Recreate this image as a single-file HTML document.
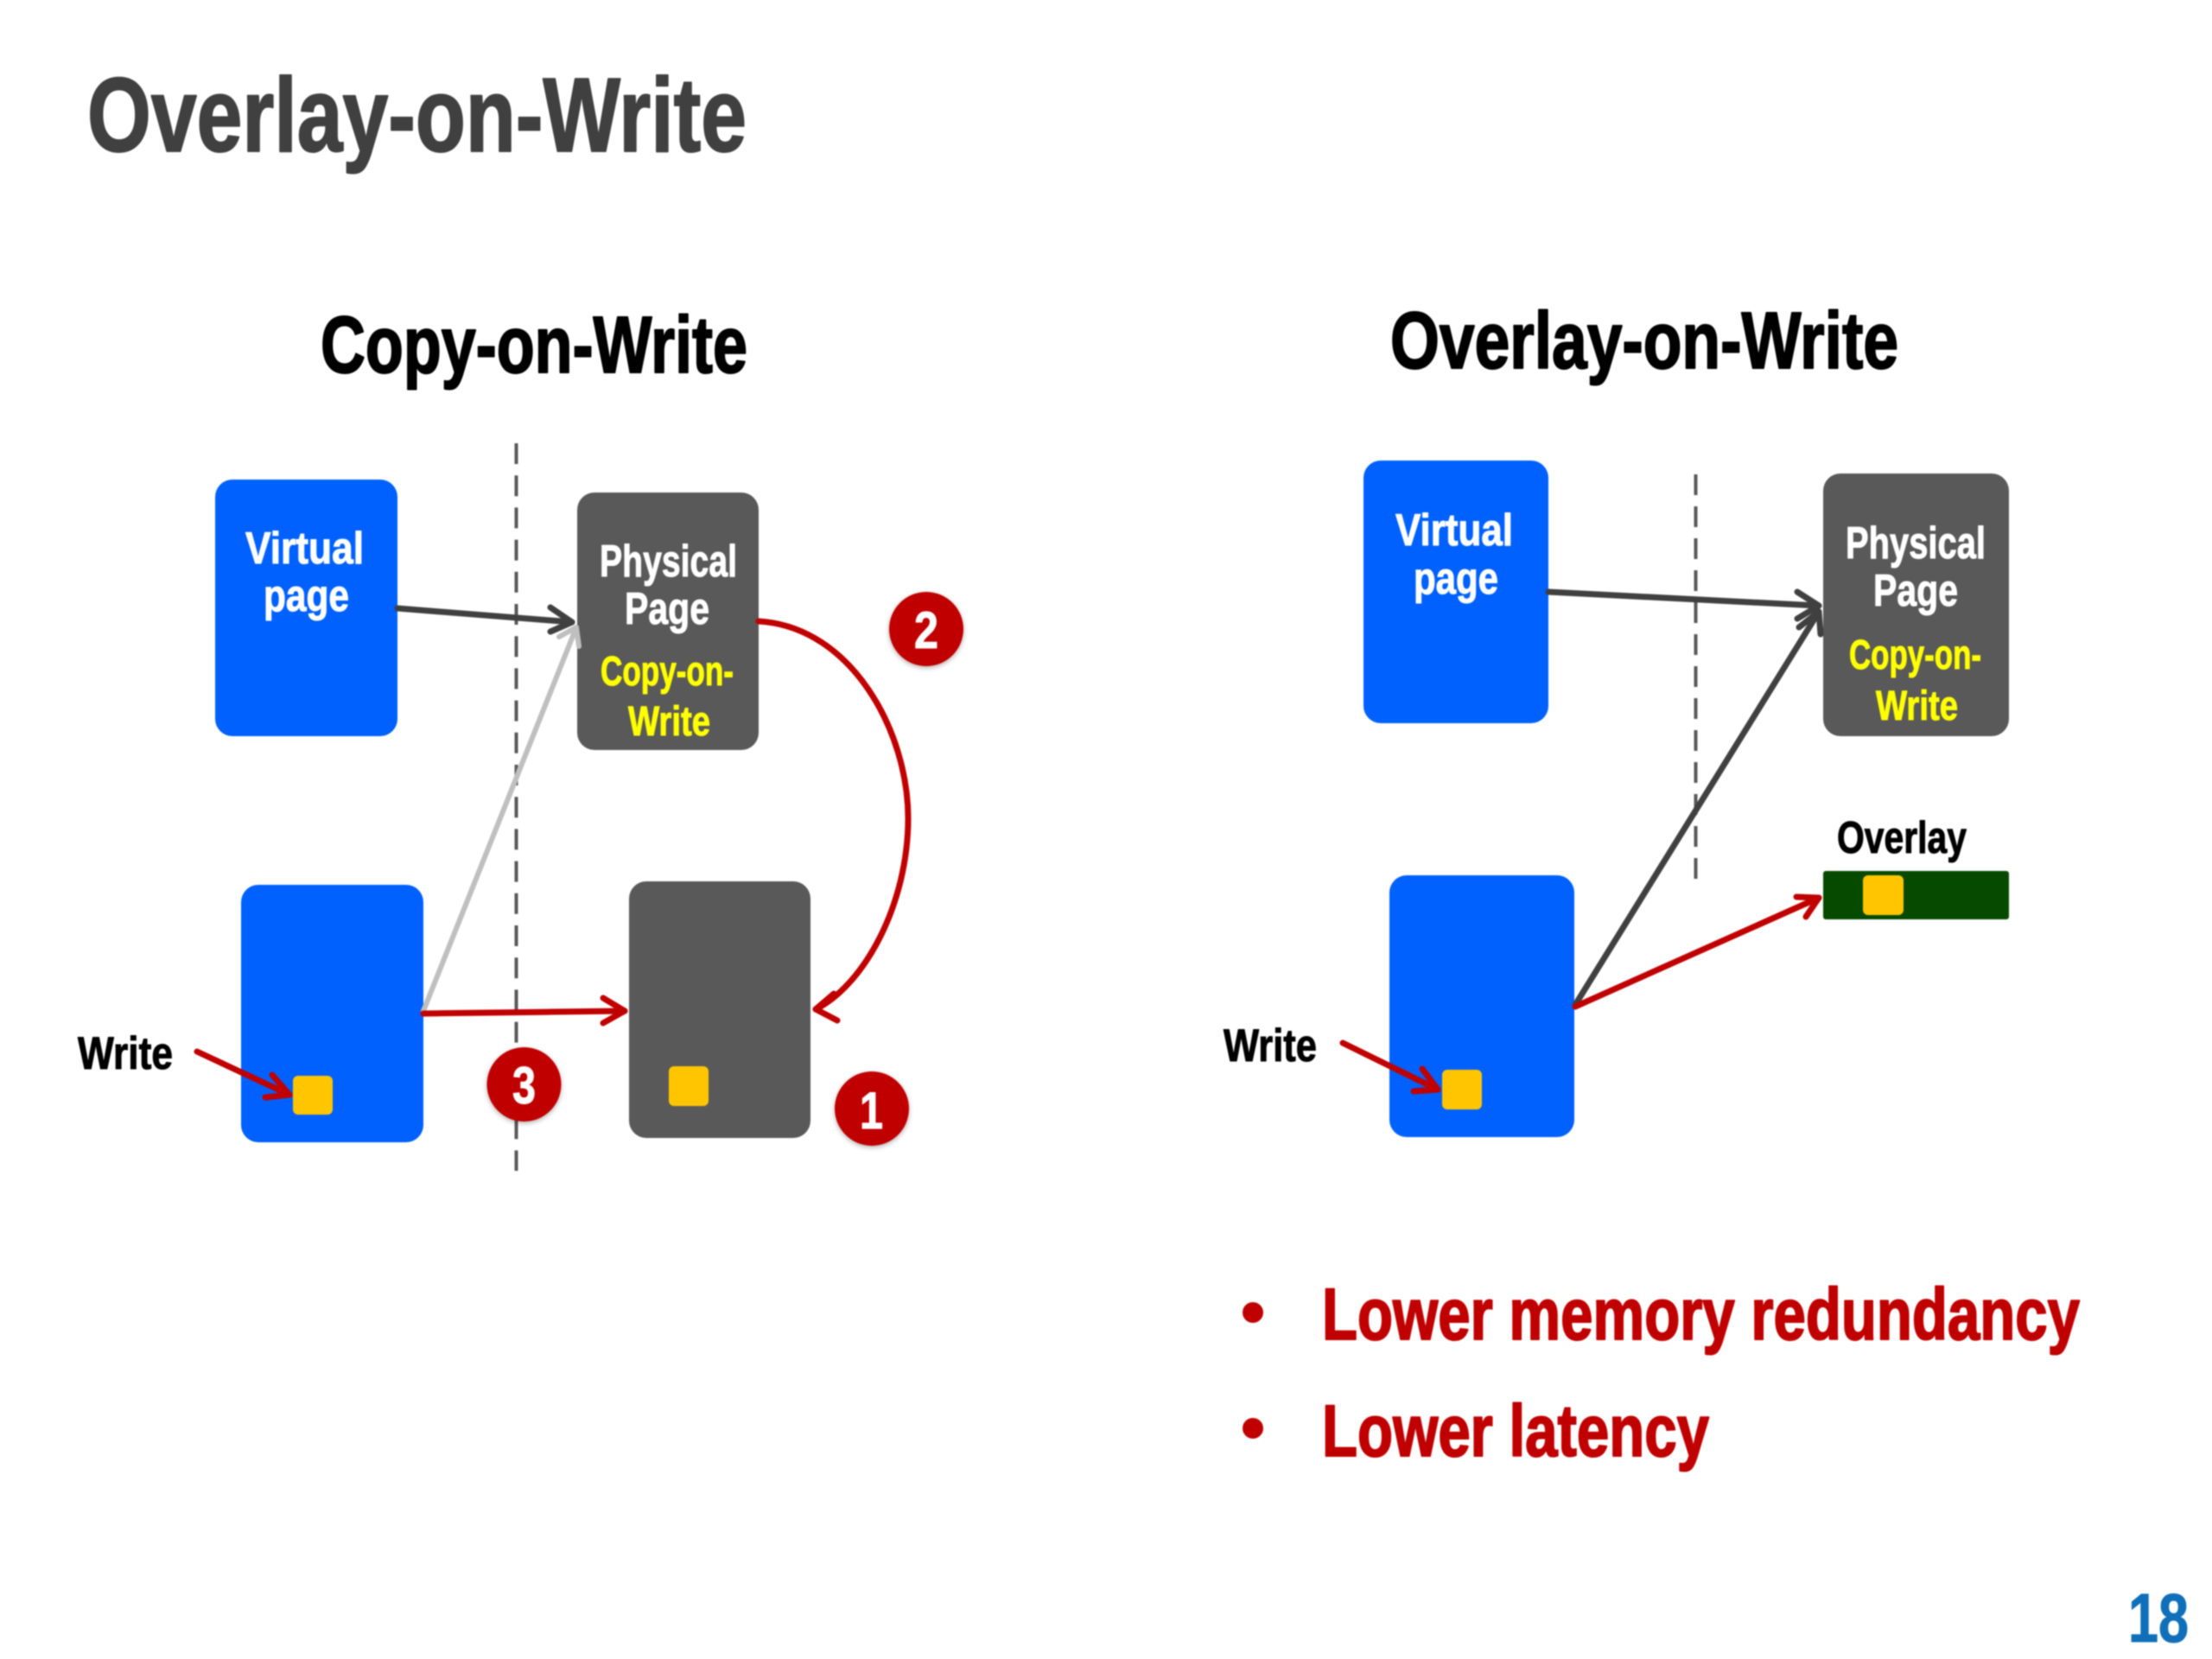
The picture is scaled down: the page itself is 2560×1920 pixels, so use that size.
<!DOCTYPE html>
<html>
<head>
<meta charset="utf-8">
<style>
html,body{margin:0;padding:0;background:#fff;width:2560px;height:1920px;overflow:hidden}
svg{display:block;filter:blur(.7px)}
text{font-family:"Liberation Sans Narrow","Liberation Sans",sans-serif;font-weight:700;stroke-linejoin:round}
.h{stroke-width:2px}
.b{stroke-width:1px}
.w{fill:#fff;stroke:#fff}
.y{fill:#ffff00;stroke:#ffff00}
.k{fill:#000;stroke:#000}
.r{fill:#c00000;stroke:#c00000}
</style>
</head>
<body>
<svg width="2560" height="1920" viewBox="0 0 2560 1920" xmlns="http://www.w3.org/2000/svg">
<defs>
<filter id="s" x="-20%" y="-20%" width="140%" height="140%"><feDropShadow dx="0" dy="2" stdDeviation="3" flood-color="#000" flood-opacity=".3"/></filter>
</defs>
<rect width="2560" height="1920" fill="#fff"/>

<text class="h" x="101" y="175" font-size="122" fill="#404040" stroke="#404040" textLength="763" lengthAdjust="spacingAndGlyphs">Overlay-on-Write</text>
<text class="h k" x="371" y="431" font-size="93" textLength="494" lengthAdjust="spacingAndGlyphs">Copy-on-Write</text>
<text class="h k" x="1609" y="426" font-size="93" textLength="588" lengthAdjust="spacingAndGlyphs">Overlay-on-Write</text>

<!-- LEFT -->
<line x1="597.5" y1="513" x2="597.5" y2="1355" stroke="#595959" stroke-width="4" stroke-dasharray="24 13.2"/>
<rect x="249" y="555" width="211" height="297" rx="20" fill="#0061ff"/>
<rect x="668" y="570" width="210" height="298" rx="20" fill="#595959"/>
<rect x="279" y="1024" width="211" height="298" rx="20" fill="#0061ff"/>
<rect x="728" y="1020" width="210" height="297" rx="20" fill="#595959"/>
<rect x="339" y="1245" width="46" height="45" rx="6" fill="#ffc600"/>
<rect x="774" y="1234" width="46" height="46" rx="6" fill="#ffc600"/>

<text class="b w" x="284" y="652" font-size="52" textLength="137" lengthAdjust="spacingAndGlyphs">Virtual</text>
<text class="b w" x="305" y="707" font-size="52" textLength="99" lengthAdjust="spacingAndGlyphs">page</text>
<text class="b w" x="694" y="667" font-size="52" textLength="159" lengthAdjust="spacingAndGlyphs">Physical</text>
<text class="b w" x="723" y="722" font-size="52" textLength="98" lengthAdjust="spacingAndGlyphs">Page</text>
<text class="b y" x="695" y="793" font-size="48" textLength="154" lengthAdjust="spacingAndGlyphs">Copy-on-</text>
<text class="b y" x="727" y="851" font-size="48" textLength="95" lengthAdjust="spacingAndGlyphs">Write</text>
<text class="b k" x="90" y="1237" font-size="53" textLength="110" lengthAdjust="spacingAndGlyphs">Write</text>

<g fill="none" stroke-linecap="round" stroke-linejoin="round">
<path d="M490 1170 L667 726" stroke="#bfbfbf" stroke-width="6"/>
<path d="M647 737 L667 726 L670 748" stroke="#bfbfbf" stroke-width="6"/>
<path d="M460 704 L662 720" stroke="#404040" stroke-width="7"/>
<path d="M637 703 L662 720 L637 731" stroke="#404040" stroke-width="7"/>
<path d="M490 1173 L723 1170" stroke="#c00000" stroke-width="7"/>
<path d="M698 1155 L723 1170 L698 1184" stroke="#c00000" stroke-width="7"/>
<path d="M878 719 C985 725 1051 846 1051 947 C1051 1047 1000 1140 944 1168" stroke="#c00000" stroke-width="7"/>
<path d="M965 1150 L944 1168 L969 1181" stroke="#c00000" stroke-width="7"/>
<path d="M228 1217 L335 1267" stroke="#c00000" stroke-width="7"/>
<path d="M315 1244 L335 1267 L307 1270" stroke="#c00000" stroke-width="7"/>
</g>

<g filter="url(#s)">
<circle cx="1072" cy="728" r="43" fill="#c00000"/>
<circle cx="606.5" cy="1255" r="43" fill="#c00000"/>
<circle cx="1009" cy="1283" r="43" fill="#c00000"/>
</g>
<text class="b w" x="1058" y="750" font-size="60" textLength="28" lengthAdjust="spacingAndGlyphs">2</text>
<text class="b w" x="593" y="1277" font-size="60" textLength="27" lengthAdjust="spacingAndGlyphs">3</text>
<text class="b w" x="995" y="1306" font-size="60" textLength="27" lengthAdjust="spacingAndGlyphs">1</text>

<!-- RIGHT -->
<line x1="1962.5" y1="549" x2="1962.5" y2="1017" stroke="#595959" stroke-width="4" stroke-dasharray="24 13"/>
<rect x="1578" y="533" width="214" height="304" rx="20" fill="#0061ff"/>
<rect x="2110" y="548" width="215" height="304" rx="20" fill="#595959"/>
<rect x="1608" y="1013" width="214" height="303" rx="20" fill="#0061ff"/>
<rect x="2110" y="1008" width="215" height="56" rx="3" fill="#064a00"/>
<rect x="2156" y="1013" width="47" height="46" rx="6" fill="#ffc600"/>
<rect x="1669" y="1238" width="46" height="46" rx="6" fill="#ffc600"/>

<text class="b w" x="1615" y="631" font-size="52" textLength="136" lengthAdjust="spacingAndGlyphs">Virtual</text>
<text class="b w" x="1636" y="687" font-size="52" textLength="98" lengthAdjust="spacingAndGlyphs">page</text>
<text class="b w" x="2136" y="646" font-size="52" textLength="162" lengthAdjust="spacingAndGlyphs">Physical</text>
<text class="b w" x="2168" y="701" font-size="52" textLength="98" lengthAdjust="spacingAndGlyphs">Page</text>
<text class="b y" x="2140" y="774" font-size="48" textLength="153" lengthAdjust="spacingAndGlyphs">Copy-on-</text>
<text class="b y" x="2171" y="833" font-size="48" textLength="95" lengthAdjust="spacingAndGlyphs">Write</text>
<text class="b k" x="2126" y="987" font-size="52" textLength="150" lengthAdjust="spacingAndGlyphs">Overlay</text>
<text class="b k" x="1416" y="1228" font-size="53" textLength="108" lengthAdjust="spacingAndGlyphs">Write</text>

<g fill="none" stroke-linecap="round" stroke-linejoin="round">
<path d="M1792 685 L2105 701" stroke="#404040" stroke-width="7"/>
<path d="M2080 685 L2105 701 L2080 716" stroke="#404040" stroke-width="7"/>
<path d="M1823 1163 L2105 708" stroke="#404040" stroke-width="7"/>
<path d="M2082 726 L2105 708 L2107 734" stroke="#404040" stroke-width="7"/>
<path d="M1823 1165 L2105 1039" stroke="#c00000" stroke-width="7"/>
<path d="M2079 1038 L2105 1039 L2090 1061" stroke="#c00000" stroke-width="7"/>
<path d="M1554 1207 L1664 1261" stroke="#c00000" stroke-width="7"/>
<path d="M1646 1237 L1664 1261 L1636 1263" stroke="#c00000" stroke-width="7"/>
</g>

<!-- Bullets -->
<ellipse cx="1450" cy="1519" rx="12" ry="12" fill="#c00000"/>
<ellipse cx="1450" cy="1653" rx="12" ry="12" fill="#c00000"/>
<text class="h r" x="1530" y="1550" font-size="84" textLength="877" lengthAdjust="spacingAndGlyphs">Lower memory redundancy</text>
<text class="h r" x="1530" y="1685" font-size="84" textLength="448" lengthAdjust="spacingAndGlyphs">Lower latency</text>

<text class="b" x="2463" y="1900" font-size="80" fill="#0f6fb8" stroke="#0f6fb8" textLength="70" lengthAdjust="spacingAndGlyphs">18</text>
</svg>
</body>
</html>
